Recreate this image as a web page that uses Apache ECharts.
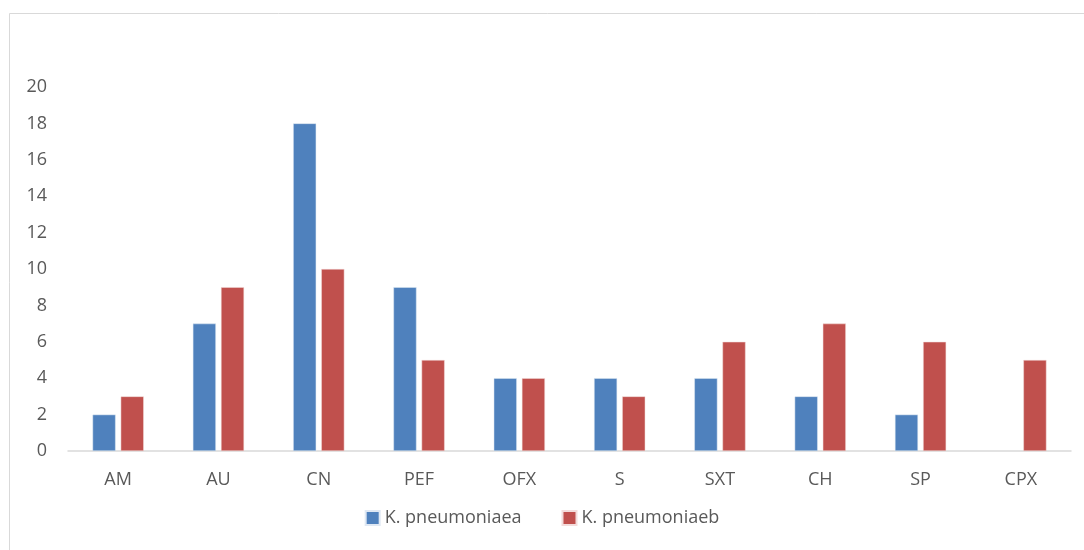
<!DOCTYPE html>
<html>
<head>
<meta charset="utf-8">
<script src="https://cdn.jsdelivr.net/npm/echarts@6/dist/echarts.min.js"></script>
<style>
  html, body { margin: 0; padding: 0; background: #fff; }
  #chart { width: 1084px; height: 550px; }
</style>
</head>
<body>
<div id="chart"></div>
<script>
// Antibiotic categories and isolate counts per group
const categories = ['AM', 'AU', 'CN', 'PEF', 'OFX', 'S', 'SXT', 'CH', 'SP', 'CPX'];
const seriesA = [2, 7, 18, 9, 4, 4, 4, 3, 2, null];
const seriesB = [3, 9, 10, 5, 4, 3, 6, 7, 6, 5];
const seriesNames = ['K. pneumoniaea', 'K. pneumoniaeb'];

const fontFamily = '"Open Sans", "Noto Sans", sans-serif';
const textColor = '#595959';

const chart = echarts.init(document.getElementById('chart'));
chart.setOption({
  animation: false,
  backgroundColor: '#fff',
  graphic: [{
    type: 'rect',
    left: 7, top: 11,
    shape: { width: 1100, height: 560 },
    style: { fill: 'none', stroke: '#d9d9d9', lineWidth: 1 },
    silent: true
  }],
  grid: { left: 68, right: 13, top: 87, bottom: 99, containLabel: false },
  legend: {
    bottom: 18,
    left: 'center',
    itemWidth: 14, itemHeight: 14,
    itemGap: 40,
    icon: 'rect',
    textStyle: { color: textColor, fontSize: 18, fontFamily: fontFamily },
    data: seriesNames
  },
  xAxis: {
    type: 'category',
    data: categories,
    axisLine: { lineStyle: { color: '#d9d9d9', width: 1.5 } },
    axisTick: { show: false },
    axisLabel: { color: textColor, fontSize: 18, fontFamily: fontFamily, margin: 20 }
  },
  yAxis: {
    type: 'value',
    min: 0, max: 20, interval: 2,
    axisLine: { show: false },
    axisTick: { show: false },
    splitLine: { show: false },
    axisLabel: { color: textColor, fontSize: 18, fontFamily: fontFamily, margin: 21 }
  },
  series: [
    {
      name: seriesNames[0], type: 'bar', data: seriesA,
      barWidth: '23%', barGap: '22%',
      itemStyle: { color: '#4f81bd', borderColor: '#dfe8f3', borderWidth: 0.5 }
    },
    {
      name: seriesNames[1], type: 'bar', data: seriesB,
      barWidth: '23%',
      itemStyle: { color: '#c0504d', borderColor: '#f3dcdb', borderWidth: 0.5 }
    }
  ]
});
</script>
</body>
</html>
